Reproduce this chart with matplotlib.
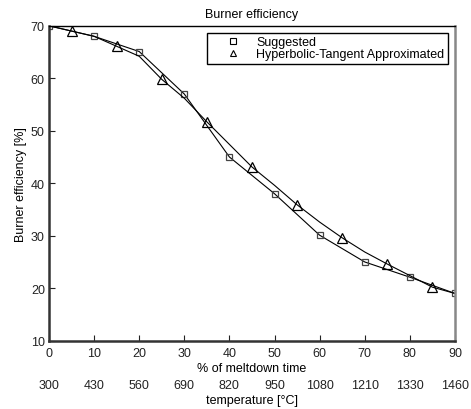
import numpy as np
import matplotlib
matplotlib.use("Agg")
import matplotlib.pyplot as plt
from matplotlib.lines import Line2D

plt.rcParams['font.family'] = ['Liberation Sans', 'DejaVu Sans']

# data
meltdown = [0, 10, 20, 30, 40, 50, 60, 70, 80, 90]
suggested = [70, 68, 65.1, 57.0, 45.0, 38.0, 30.1, 25.0, 22.1, 19.0]

# hyperbolic-tangent curve (line), markers on every other point
tanh_x = [0, 5, 10, 15, 20, 25, 30, 35, 40, 45, 50, 55, 60, 65, 70, 75, 80, 85, 90]
tanh_y = [70, 69.0, 68.0, 66.1, 64.2, 59.8, 56.2, 51.7, 47.4, 43.1, 39.6,
          35.9, 32.6, 29.6, 26.9, 24.6, 22.4, 20.2, 19.0]
tri_x = [5, 15, 25, 35, 45, 55, 65, 75, 85]
tri_y = [69.0, 66.1, 59.8, 51.7, 43.1, 35.9, 29.6, 24.6, 20.2]

temp_labels = ["300", "430", "560", "690", "820", "950", "1080", "1210", "1330", "1460"]

fs = 9

fig = plt.figure(figsize=(4.71, 4.10), dpi=100)
ax = fig.add_axes([0.104, 0.1666, 0.862, 0.768])

ax.plot(meltdown, suggested, color='k', lw=0.8, marker='s', ms=5,
        mfc='none', mec='#444444', mew=0.9)
ax.plot(tanh_x, tanh_y, color='k', lw=0.8)
ax.plot(tri_x, tri_y, ls='none', marker='^', ms=6.5, mfc='none', mec='k', mew=0.9)

ax.set_xlim(0, 90)
ax.set_ylim(10, 70)
ax.set_xticks(meltdown)
ax.set_yticks(range(10, 71, 10))
ax.tick_params(direction='in', length=4, labelsize=fs, colors='#222222')
ax.tick_params(axis='x', pad=4.5)
ax.tick_params(axis='y', pad=3)
ax.spines['left'].set_linewidth(1.8)
ax.spines['left'].set_color('#333333')
ax.spines['bottom'].set_linewidth(1.8)
ax.spines['bottom'].set_color('#333333')
ax.spines['right'].set_linewidth(1.8)
ax.spines['right'].set_color('#888888')
ax.spines['top'].set_linewidth(1.0)
ax.spines['top'].set_color('k')

ax.set_xlabel("% of meltdown time", fontsize=fs, labelpad=2)
ax.set_ylabel("Burner efficiency [%]", fontsize=fs, labelpad=3)
ax.set_title("Burner efficiency", fontsize=fs, pad=6.5)

# second row of labels: temperature
ax2 = ax.twiny()
ax2.set_xlim(ax.get_xlim())
ax2.xaxis.set_ticks_position('bottom')
ax2.xaxis.set_label_position('bottom')
ax2.set_xticks(meltdown)
ax2.set_xticklabels(temp_labels)
ax2.tick_params(axis='x', length=0, pad=27.5, labelsize=fs, colors='#222222')
ax2.set_xlabel("temperature [°C]", fontsize=fs, labelpad=2)
for s in ax2.spines.values():
    s.set_visible(False)

handles = [Line2D([], [], ls='none', marker='s', ms=3.8, mfc='none', mec='k', mew=0.8),
           Line2D([], [], ls='none', marker='^', ms=5, mfc='none', mec='k', mew=0.8)]
leg = ax.legend(handles, ["Suggested", "Hyperbolic-Tangent Approximated"],
                loc='upper right', fontsize=fs, fancybox=False, framealpha=1,
                edgecolor='k', borderpad=0.3, handletextpad=0.1, labelspacing=0.0,
                handlelength=3.5, borderaxespad=0.55)
leg.get_frame().set_linewidth(1.0)

fig.savefig("out.png", dpi=100)
